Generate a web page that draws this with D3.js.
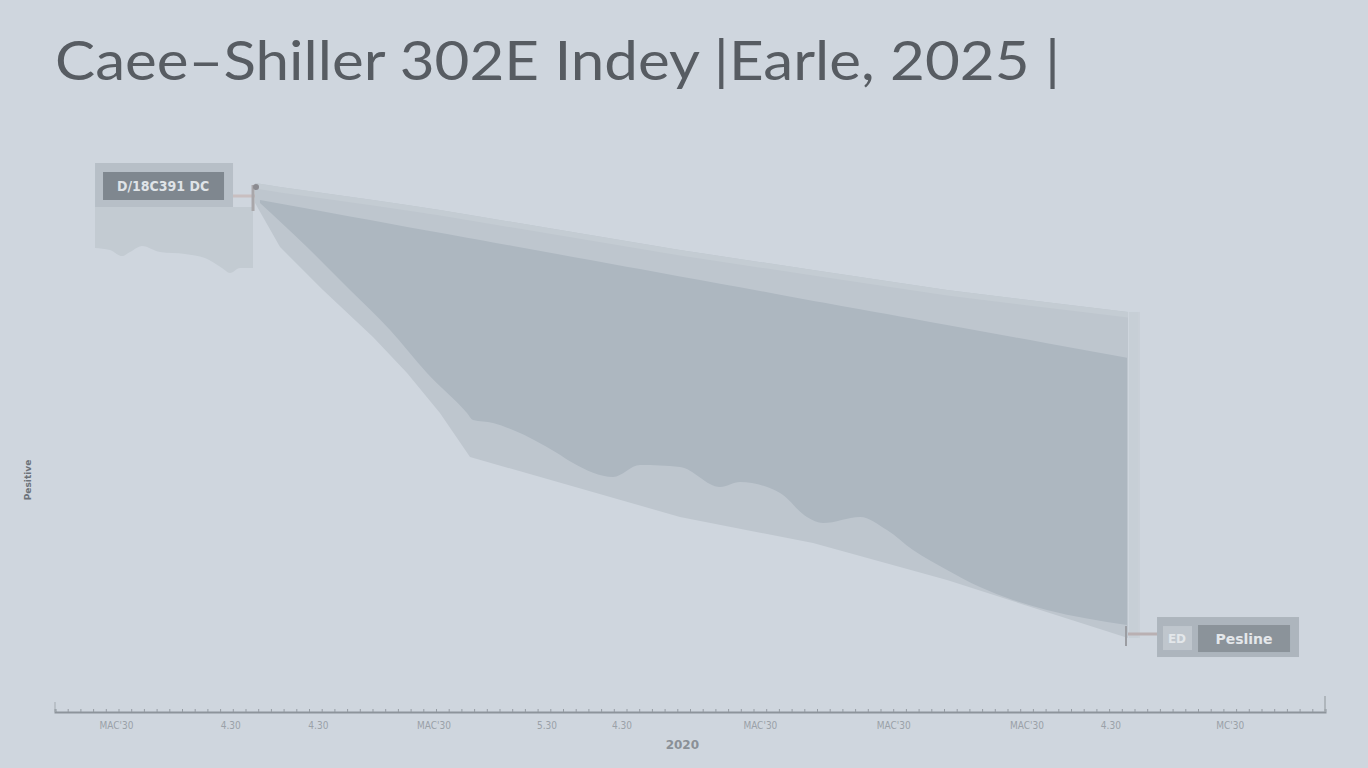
<!DOCTYPE html>
<html>
<head>
<meta charset="utf-8">
<script src="https://cdn.jsdelivr.net/npm/d3@7/dist/d3.min.js"></script>
<style>
  html,body{margin:0;padding:0;background:#cfd6de;}
  svg{display:block;}
</style>
</head>
<body>
<svg id="chart" width="1368" height="768"></svg>
<script>
// ---------- DATA ----------
const titleText = "Caee\u2013Shiller 302E Indey |Earle, 2025 |";
const yAxisLabel = "Pesitive";
const xAxisTitle = "2020";
const startLabel = "D/18C391 DC";
const endLabelTag = "ED";
const endLabel = "Pesline";

// tick labels along the period axis
const tickPeriods = [4.8, 13.8, 20.7, 29.8, 38.7, 44.6, 55.5, 66.0, 76.5, 83.1, 92.5];
const tickLabels  = ["MAC'30","4.30","4.30","MAC'30","5.30","4.30","MAC'30","MAC'30","MAC'30","4.30","MC'30"];

// outer (light) range band
const rangePeriods = [15.75, 17.72, 21.10, 25.04, 27.72, 30.31, 32.68, 49.21, 59.69, 70.24, 84.49];
const rangeHigh    = [287.5, 285.3, 282.1, 278.3, 275.5, 272.8, 270.1, 251.1, 240.2, 229.3, 217.4];
const rangeLow     = [276.6, 252.7, 229.3, 203.8, 184.2, 162.5, 138.6, 106.0, 91.8, 71.7, 40.2];

// inner (dark) index band
const indexPeriods = [16.14, 19.84, 23.23, 26.38, 29.29, 32.44, 32.91, 34.49, 36.06, 39.53, 40.79, 43.94,
                      46.06, 49.21, 52.36, 53.94, 57.09, 59.21, 60.47, 63.39, 65.51, 67.56, 70.24, 72.83,
                      75.43, 78.11, 84.41];
const indexHigh    = [278.3, 273.6, 269.3, 265.4, 261.7, 257.8, 257.2, 255.2, 253.3, 248.9, 247.3, 243.4,
                      240.7, 236.7, 232.8, 230.8, 226.8, 224.1, 222.6, 218.9, 216.3, 213.7, 210.3, 207.1,
                      203.8, 200.4, 192.5];
const indexLow     = [276.6, 252.7, 229.3, 207.6, 184.2, 162.5, 158.7, 157.1, 153.3, 140.8, 135.3, 127.7,
                      134.2, 133.2, 122.3, 125.0, 119.0, 106.0, 102.7, 106.0, 98.9, 88.0, 77.2, 67.9,
                      60.9, 55.4, 47.3];

// early history inset
const historyPeriods = [3.15, 4.33, 5.28, 5.91, 6.85, 8.27, 10.24, 11.81, 13.15, 13.78, 14.57, 15.59];
const historyHigh    = [274.5, 274.5, 274.5, 274.5, 274.5, 274.5, 274.5, 274.5, 274.5, 274.5, 274.5, 274.5];
const historyLow     = [252.2, 251.1, 247.8, 250.0, 253.3, 250.0, 248.9, 246.7, 241.3, 238.6, 241.3, 241.3];

// ---------- CHART ----------
const svg = d3.select("#chart");
const W = 1368, H = 768;
const margin = {left: 55, right: 43, top: 160, bottom: 56};

svg.append("rect").attr("width", W).attr("height", H).attr("fill", "#cfd6de");

const x = d3.scaleLinear().domain([0, 100]).range([margin.left, W - margin.right]);
const y = d3.scaleLinear().domain([0, 300]).range([H - margin.bottom, margin.top]);

function zip(px, hi, lo){ return px.map((p,i)=>({p, hi:hi[i], lo:lo[i]})); }

const area = d3.area().x(d=>x(d.p)).y0(d=>y(d.lo)).y1(d=>y(d.hi)).curve(d3.curveMonotoneX);
const areaLin = d3.area().x(d=>x(d.p)).y0(d=>y(d.lo)).y1(d=>y(d.hi)).curve(d3.curveLinear);

// title
svg.append("text")
  .attr("x", 55).attr("y", 80)
  .attr("font-family", "Lato, 'Noto Sans', sans-serif")
  .attr("font-size", 54)
  .attr("fill", "#575c62")
  .attr("textLength", 1005)
  .attr("lengthAdjust", "spacingAndGlyphs")
  .text(titleText);

// history inset area
svg.append("path").datum(zip(historyPeriods, historyHigh, historyLow))
  .attr("d", area).attr("fill", "#c3cbd2");

// outer range band
svg.append("path").datum(zip(rangePeriods, rangeHigh, rangeLow))
  .attr("d", areaLin).attr("fill", "#bec6ce");

// thin highlight along the top of range band
svg.append("path").datum(zip(rangePeriods, rangeHigh, rangeHigh.map(v=>v-3)))
  .attr("d", areaLin).attr("fill", "#c4ccd3");

// dark index band
svg.append("path").datum(zip(indexPeriods, indexHigh, indexLow))
  .attr("d", area).attr("fill", "#adb7c0");

// right edge strip
const lastP = rangePeriods[rangePeriods.length-1];
svg.append("rect")
  .attr("x", x(lastP)+1).attr("width", 9)
  .attr("y", y(rangeHigh[rangeHigh.length-1]))
  .attr("height", y(rangeLow[rangeLow.length-1]) - y(rangeHigh[rangeHigh.length-1]))
  .attr("fill", "#c7cfd6");
svg.append("line")
  .attr("x1", x(lastP)+11).attr("x2", x(lastP)+11)
  .attr("y1", y(rangeHigh[rangeHigh.length-1])).attr("y2", y(rangeLow[rangeLow.length-1]))
  .attr("stroke", "#c3cbd2").attr("stroke-width", 1);

// start annotation
const sP = rangePeriods[0], sV = rangeHigh[0];
const sx = x(sP), sy = y(sV);
const sBox = {x: sx-160, y: sy-20, w: 138, h: 44};
svg.append("rect").attr("x", sBox.x).attr("y", sBox.y).attr("width", sBox.w).attr("height", sBox.h)
  .attr("fill", "#b7bfc7");
svg.append("rect").attr("x", sBox.x+8).attr("y", sBox.y+9).attr("width", 121).attr("height", 28)
  .attr("fill", "#7f878f");
svg.append("text").attr("x", sBox.x+8+60).attr("y", sBox.y+9+19)
  .attr("text-anchor", "middle")
  .attr("font-family", "'Liberation Sans Narrow', 'DejaVu Sans Condensed', sans-serif")
  .attr("font-weight", "bold").attr("font-size", 14).attr("fill", "#dfe3e7")
  .text(startLabel);
svg.append("line").attr("x1", sBox.x+sBox.w).attr("x2", sx).attr("y1", sy+13).attr("y2", sy+13)
  .attr("stroke", "#c9bfc0").attr("stroke-width", 3);
svg.append("line").attr("x1", sx-2).attr("x2", sx-2).attr("y1", sy+2).attr("y2", sy+28)
  .attr("stroke", "#a9a7aa").attr("stroke-width", 3);
svg.append("circle").attr("cx", sx+1).attr("cy", sy+4).attr("r", 3).attr("fill", "#8b8b90");

// end annotation
const eV = rangeLow[rangeLow.length-1];
const ex = x(lastP), ey = y(eV);
svg.append("line").attr("x1", ex).attr("x2", ex+33).attr("y1", ey-4).attr("y2", ey-4)
  .attr("stroke", "#b9b0b2").attr("stroke-width", 3);
svg.append("line").attr("x1", ex-2).attr("x2", ex-2).attr("y1", ey-12).attr("y2", ey+8)
  .attr("stroke", "#9b9da2").attr("stroke-width", 2);
const eBox = {x: ex+29, y: ey-21, w: 142, h: 40};
svg.append("rect").attr("x", eBox.x).attr("y", eBox.y).attr("width", eBox.w).attr("height", eBox.h)
  .attr("fill", "#adb5bd");
svg.append("rect").attr("x", eBox.x+6).attr("y", eBox.y+9).attr("width", 29).attr("height", 24)
  .attr("fill", "#bfc6cd");
svg.append("text").attr("x", eBox.x+20).attr("y", eBox.y+26).attr("text-anchor", "middle")
  .attr("font-family", "'DejaVu Sans', sans-serif").attr("font-weight", "bold")
  .attr("font-size", 12).attr("fill", "#e3e7ea").text(endLabelTag);
svg.append("rect").attr("x", eBox.x+41).attr("y", eBox.y+8).attr("width", 92).attr("height", 27)
  .attr("fill", "#8b939a");
svg.append("text").attr("x", eBox.x+87).attr("y", eBox.y+27).attr("text-anchor", "middle")
  .attr("font-family", "'DejaVu Sans', sans-serif").attr("font-weight", "bold")
  .attr("font-size", 14).attr("fill", "#e4e7ea").text(endLabel);

// x axis: minor ticks
const axisY = H - margin.bottom;
const minor = d3.axisBottom(x).tickValues(d3.range(0, 101, 1)).tickSize(-3).tickFormat("");
const gMinor = svg.append("g").attr("transform", `translate(0,${axisY})`).call(minor);
gMinor.select(".domain").attr("stroke", "#8d949b").attr("stroke-width", 2);
gMinor.selectAll(".tick line").attr("stroke", "#959ca3");

// end ticks
svg.append("line").attr("x1", x(0)).attr("x2", x(0)).attr("y1", axisY-10).attr("y2", axisY)
  .attr("stroke", "#a4abb1").attr("stroke-width", 1);
svg.append("line").attr("x1", x(100)).attr("x2", x(100)).attr("y1", axisY-16).attr("y2", axisY)
  .attr("stroke", "#a4abb1").attr("stroke-width", 1.5);

// labeled ticks
const labeled = d3.axisBottom(x).tickValues(tickPeriods).tickSize(0).tickPadding(10)
  .tickFormat((d,i)=>tickLabels[i]);
const gLab = svg.append("g").attr("transform", `translate(0,${axisY})`).call(labeled);
gLab.select(".domain").remove();
gLab.selectAll(".tick text")
  .attr("font-family", "'Liberation Sans Narrow', 'DejaVu Sans Condensed', sans-serif")
  .attr("font-size", 10).attr("fill", "#9aa1a8");

svg.append("text").attr("x", x(49.4)).attr("y", axisY+37).attr("text-anchor", "middle")
  .attr("font-family", "'DejaVu Sans', sans-serif").attr("font-size", 12).attr("font-weight", "bold")
  .attr("fill", "#8a9097").text(xAxisTitle);

// y axis label
svg.append("text").attr("transform", `translate(31,480) rotate(-90)`)
  .attr("text-anchor", "middle")
  .attr("font-family", "'DejaVu Sans', sans-serif").attr("font-size", 9).attr("font-weight", "bold")
  .attr("fill", "#6c7279").text(yAxisLabel);
</script>
</body>
</html>
